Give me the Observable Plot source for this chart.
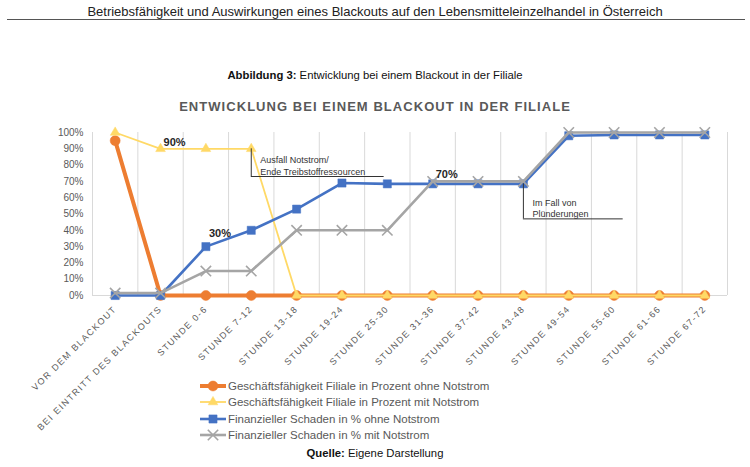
<!DOCTYPE html>
<html><head><meta charset="utf-8">
<script src="https://cdn.jsdelivr.net/npm/d3@7"></script>
<script src="https://cdn.jsdelivr.net/npm/@observablehq/plot@0.6"></script>
<style>
body{margin:0;background:#fff;font-family:"Liberation Sans",Arial,sans-serif;}
#page{position:relative;width:750px;height:467px;overflow:hidden;background:#fff;}
.abs{position:absolute;white-space:nowrap;}
.lg{display:flex;align-items:center;height:16.3px;font-size:11.5px;color:#595959;}
.lg svg{margin-right:1px;}
</style></head><body><div id="page">
<div class="abs" style="left:0;width:750px;top:4px;text-align:center;font-size:13px;color:#222">Betriebsfähigkeit und Auswirkungen eines Blackouts auf den Lebensmitteleinzelhandel in Österreich</div>
<div class="abs" style="left:7px;width:738px;top:19px;border-top:1px solid #555"></div>
<div class="abs" id="chart" style="left:0;top:120px"></div>
<div class="abs" style="left:0;width:750px;top:69px;text-align:center;font-size:11.3px;color:#111"><b>Abbildung 3:</b> Entwicklung bei einem Blackout in der Filiale</div>
<div class="abs" style="left:0;width:750px;top:99px;text-align:center;font-size:13px;font-weight:bold;letter-spacing:1.05px;color:#595959">ENTWICKLUNG BEI EINEM BLACKOUT IN DER FILIALE</div>
<div class="abs" id="legend" style="left:199px;top:378px"></div>
<div class="abs" style="left:0;width:750px;top:447px;text-align:center;font-size:11.3px;color:#111"><b>Quelle:</b> Eigene Darstellung</div>
</div>
<script>
const categories = ["VOR DEM BLACKOUT","BEI EINTRITT DES BLACKOUTS","STUNDE 0-6","STUNDE 7-12","STUNDE 13-18","STUNDE 19-24","STUNDE 25-30","STUNDE 31-36","STUNDE 37-42","STUNDE 43-48","STUNDE 49-54","STUNDE 55-60","STUNDE 61-66","STUNDE 67-72"];
const betriebOhne = [0.95, 0, 0, 0, 0, 0, 0, 0, 0, 0, 0, 0, 0, 0];
const betriebMit = [1.00, 0.90, 0.90, 0.90, 0, 0, 0, 0, 0, 0, 0, 0, 0, 0];
const schadenOhne = [0, 0, 0.30, 0.40, 0.53, 0.69, 0.685, 0.685, 0.685, 0.685, 0.98, 0.985, 0.985, 0.985];
const schadenMit = [0.015, 0.015, 0.15, 0.15, 0.40, 0.40, 0.40, 0.70, 0.70, 0.70, 1.00, 1.00, 1.00, 1.00];
const seriesNames = ["Geschäftsfähigkeit Filiale in Prozent ohne Notstrom","Geschäftsfähigkeit Filiale in Prozent mit Notstrom","Finanzieller Schaden in % ohne Notstrom","Finanzieller Schaden in % mit Notstrom"];
const yTicks = [0,0.1,0.2,0.3,0.4,0.5,0.6,0.7,0.8,0.9,1.0];
const valueLabels = [{s:1,i:1,text:"90%"},{s:2,i:2,text:"30%"},{s:3,i:7,text:"70%"}];
const callouts = [
  {i:3, s:1, yEnd:0.73, xEnd:5.93, text:"Ausfall Notstrom/\nEnde Treibstoffressourcen"},
  {i:9, s:2, yEnd:0.47, xEnd:11.2, text:"Im Fall von\nPlünderungen"}
];

// styling (kept separate from data)
const labelDy = [-6, -13, -7];
const allSeries = [betriebOhne, betriebMit, schadenOhne, schadenMit];
const styles = [
  {color:"#ED7D31", width:4, symbol:"circle", r:5, fill:true},
  {color:"#FFD966", width:1.8, symbol:"triangle", r:3.6, fill:true},
  {color:"#4472C4", width:2.6, symbol:"square", r:4.6, fill:true},
  {color:"#A5A5A5", width:2.6, symbol:"times", r:4.8, fill:false}
];
const rows = allSeries.map((vals,s)=>vals.map((v,i)=>({i, v, s})));

const marks = [
  Plot.ruleX(d3.range(categories.length+1).map(i=>i-0.5), {stroke:"#d9d9d9", strokeWidth:1}),
  Plot.ruleY([0], {stroke:"#d9d9d9"})
];
rows.forEach((data,s)=>{
  const st = styles[s];
  marks.push(Plot.line(data,{x:"i", y:"v", stroke:st.color, strokeWidth:st.width, strokeLinejoin:"round"}));
  marks.push(Plot.dot(data,{x:"i", y:"v", symbol:st.symbol, r:st.r,
    fill: st.fill ? st.color : "none", stroke: st.color, strokeWidth: st.fill?0.5:1.6}));
});
valueLabels.forEach((d,k)=>{
  marks.push(Plot.text([{x:d.i, y:allSeries[d.s][d.i], text:d.text}],{x:"x", y:"y", text:"text", dx:3, dy:labelDy[k], textAnchor:"start", fontWeight:"bold", fontSize:11, fill:"#262626"}));
});
const cData = callouts.map(c=>({x:c.i, y:allSeries[c.s][c.i], yEnd:c.yEnd, xEnd:c.xEnd, text:c.text}));
marks.push(Plot.ruleX(cData,{x:"x", y1:"y", y2:"yEnd", stroke:"#333", strokeWidth:1}));
marks.push(Plot.ruleY(cData,{y:"yEnd", x1:"x", x2:"xEnd", stroke:"#333", strokeWidth:1}));
marks.push(Plot.text(cData,{x:"x", y:"yEnd", text:"text", dx:9, dy:-2, textAnchor:"start", lineAnchor:"bottom", lineHeight:1.25, fontSize:9, fill:"#333"}));

const chart = Plot.plot({
  width:750, height:320,
  marginLeft:92, marginRight:23, marginTop:12, marginBottom:145,
  style:{fontFamily:"'Liberation Sans', Arial, sans-serif", fontSize:"10px", color:"#595959", background:"transparent", overflow:"visible"},
  x:{type:"linear", domain:[-0.5, categories.length-0.5], ticks:d3.range(categories.length), tickFormat:i=>categories[i], tickRotate:-45, tickSize:0, tickPadding:12, label:null},
  y:{domain:[0,1], ticks:yTicks, tickFormat:d3.format(".0%"), tickSize:0, tickPadding:9, label:null},
  marks
});
d3.select(chart).selectAll('g[aria-label^="x-axis"] text').style("font-size","9px").style("letter-spacing","1.4px");
document.getElementById("chart").appendChild(chart);

// legend
const lg = d3.select("#legend");
seriesNames.forEach((name,s)=>{
  const st = styles[s];
  const row = lg.append("div").attr("class","lg");
  const svg = row.append("svg").attr("width",28).attr("height",12);
  svg.append("line").attr("x1",1).attr("x2",27).attr("y1",6).attr("y2",6).attr("stroke",st.color).attr("stroke-width",st.width);
  const symMap = {circle:d3.symbolCircle, triangle:d3.symbolTriangle, square:d3.symbolSquare, times:d3.symbolTimes};
  svg.append("path").attr("transform","translate(14,6)")
    .attr("d", d3.symbol(symMap[st.symbol], Math.PI*st.r*st.r)())
    .attr("fill", st.fill?st.color:"none").attr("stroke",st.color).attr("stroke-width",st.fill?0.5:1.6);
  row.append("span").text(name);
});
</script>
</body></html>
